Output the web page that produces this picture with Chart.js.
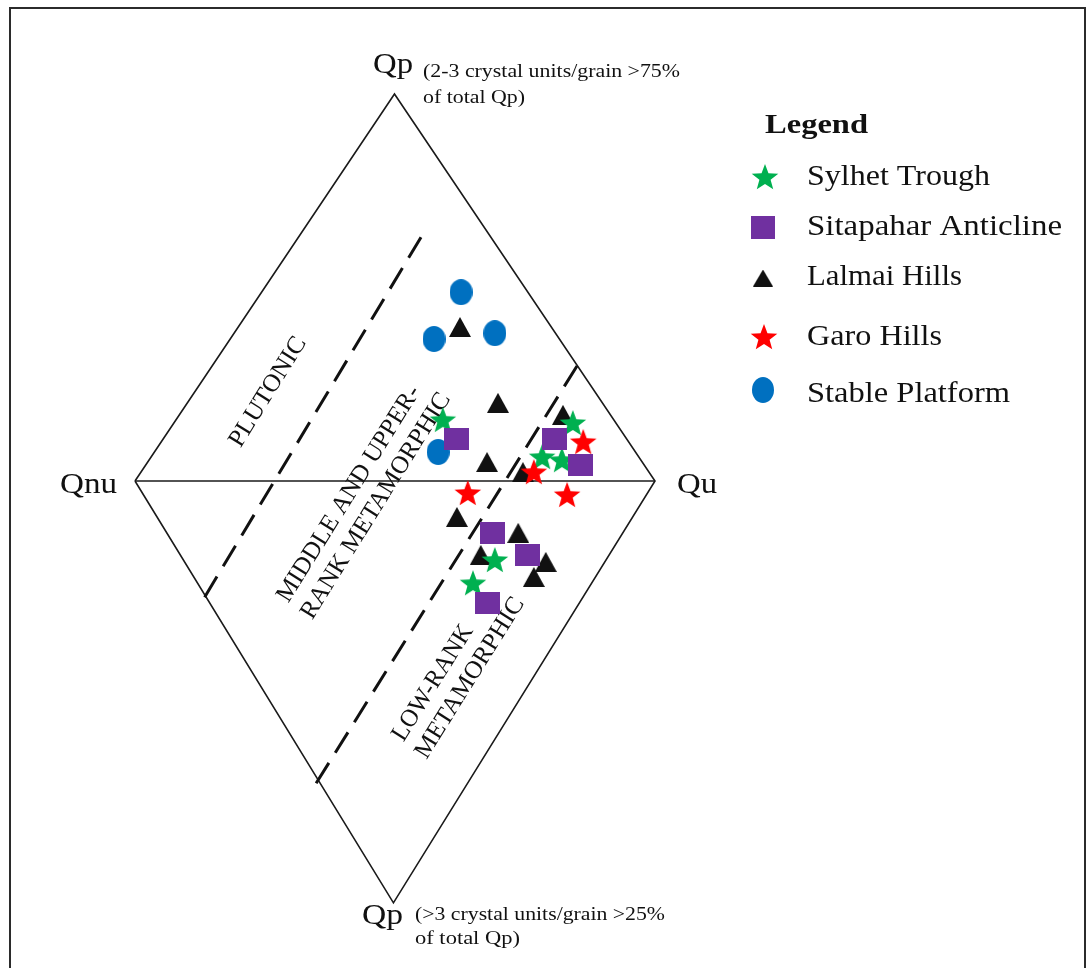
<!DOCTYPE html>
<html>
<head>
<meta charset="utf-8">
<title>Qp-Qnu-Qu provenance diamond</title>
<script src="https://cdn.jsdelivr.net/npm/chart.js@4/dist/chart.umd.min.js"></script>
<style>
  html, body { margin: 0; padding: 0; background: #fff; }
  canvas { display: block; }
</style>
</head>
<body>
<canvas id="diamond" width="1089" height="968"></canvas>
<script>
// Diagram coordinates: x runs from Qnu (0) to Qu (100) along the horizontal axis,
// y is 0 on that axis, 100 at the upper Qp apex and negative towards the lower Qp apex.
const diamondOutline   = [{x: 0, y: 0}, {x: 49.9, y: 100}, {x: 100, y: 0}, {x: 49.7, y: -109}, {x: 0, y: 0}];
const centralAxis      = [{x: 0, y: 0}, {x: 100, y: 0}];
const plutonicBoundary = [{x: 55.0, y: 63.0}, {x: 12.5, y: -32.0}];
const lowRankBoundary  = [{x: 85.0, y: 29.7}, {x: 34.6, y: -78.6}];

// Sample points by basin
const sylhetTrough = [
  {x: 59.2, y: 15.8}, {x: 84.2, y: 15.0}, {x: 78.3, y: 6.2},
  {x: 82.1, y: 5.4}, {x: 69.2, y: -20.4}, {x: 65.0, y: -26.4}
];
const sitapaharAnticline = [
  {x: 61.9, y: 10.9}, {x: 80.6, y: 10.9}, {x: 85.6, y: 4.1},
  {x: 68.7, y: -13.4}, {x: 75.4, y: -19.1}, {x: 67.7, y: -31.5}
];
const lalmaiHills = [
  {x: 62.5, y: 39.8}, {x: 69.8, y: 20.2}, {x: 67.7, y: 4.9}, {x: 82.3, y: 17.1},
  {x: 74.6, y: 2.3}, {x: 61.9, y: -9.3}, {x: 73.7, y: -13.4}, {x: 66.5, y: -19.1},
  {x: 79.0, y: -20.9}, {x: 76.7, y: -24.8}
];
const garoHills = [
  {x: 86.2, y: 10.1}, {x: 76.7, y: 2.3}, {x: 64.0, y: -3.1}, {x: 83.1, y: -3.6}
];
const stablePlatform = [
  {x: 62.7, y: 48.8}, {x: 57.5, y: 36.7}, {x: 69.2, y: 38.2}, {x: 58.3, y: 7.5}
];

const seriesNames = ['Sylhet Trough', 'Sitapahar Anticline', 'Lalmai Hills', 'Garo Hills', 'Stable Platform'];

// ---- marker glyphs -------------------------------------------------------
function makeCanvas(w, h) {
  const c = document.createElement('canvas');
  c.width = w; c.height = h;
  return c;
}
function starGlyph(color, R) {
  const s = Math.ceil(2 * R + 2);
  const c = makeCanvas(s, s);
  const g = c.getContext('2d');
  g.fillStyle = color;
  g.beginPath();
  for (let i = 0; i < 10; i++) {
    const a = -Math.PI / 2 + i * Math.PI / 5;
    const r = i % 2 ? R * 0.42 : R;
    const px = s / 2 + r * Math.cos(a), py = s / 2 + 1 + r * Math.sin(a);
    i ? g.lineTo(px, py) : g.moveTo(px, py);
  }
  g.closePath();
  g.fill();
  return c;
}
function squareGlyph(color, w, h) {
  const c = makeCanvas(w, h);
  const g = c.getContext('2d');
  g.fillStyle = color;
  g.fillRect(0, 0, w, h);
  return c;
}
function triangleGlyph(color, w, h) {
  const c = makeCanvas(w, h);
  const g = c.getContext('2d');
  g.fillStyle = color;
  g.beginPath();
  g.moveTo(w / 2, 0); g.lineTo(w, h); g.lineTo(0, h);
  g.closePath();
  g.fill();
  return c;
}
function ellipseGlyph(color, w, h) {
  const c = makeCanvas(w, h);
  const g = c.getContext('2d');
  g.fillStyle = color;
  g.beginPath();
  g.ellipse(w / 2, h / 2, w / 2, h / 2, 0, 0, Math.PI * 2);
  g.fill();
  return c;
}

const GREEN = '#00B050', PURPLE = '#7030A0', BLACK = '#111111', RED = '#FF0000', BLUE = '#0070C0';
const glyphs = {
  sylhet:    starGlyph(GREEN, 14),
  sitapahar: squareGlyph(PURPLE, 25, 22),
  lalmai:    triangleGlyph(BLACK, 22, 20),
  garo:      starGlyph(RED, 14),
  stable:    ellipseGlyph(BLUE, 23, 26)
};
const legendGlyphs = [
  starGlyph(GREEN, 14),
  squareGlyph(PURPLE, 24, 23),
  triangleGlyph(BLACK, 20, 17),
  starGlyph(RED, 14),
  ellipseGlyph(BLUE, 22, 26)
];

// ---- text helpers ---------------------------------------------------------
const SERIF = '"Liberation Serif", "Times New Roman", serif';
function fitText(ctx, str, x, y, width, font, angleDeg) {
  ctx.save();
  ctx.font = font;
  const m = ctx.measureText(str).width;
  ctx.translate(x, y);
  if (angleDeg) ctx.rotate(angleDeg * Math.PI / 180);
  ctx.scale(width / m, 1);
  ctx.fillText(str, 0, 0);
  ctx.restore();
}

const diagramText = {
  id: 'diagramText',
  beforeDraw(chart) {
    const ctx = chart.ctx;
    ctx.save();
    ctx.fillStyle = '#ffffff';
    ctx.fillRect(0, 0, chart.width, chart.height);
    // page frame
    ctx.strokeStyle = '#2b2b2b';
    ctx.lineWidth = 2;
    ctx.beginPath();
    ctx.moveTo(10, chart.height);
    ctx.lineTo(10, 8);
    ctx.lineTo(1085, 8);
    ctx.lineTo(1085, chart.height);
    ctx.stroke();
    ctx.restore();
  },
  beforeDatasetsDraw(chart) {
    const ctx = chart.ctx;
    ctx.save();
    ctx.fillStyle = '#111';
    // field labels, rotated parallel to the boundaries
    ctx.textAlign = 'center';
    ctx.textBaseline = 'middle';
    const f = '25px ' + SERIF;
    fitText(ctx, 'PLUTONIC', 268, 392, 125, f, -58);
    fitText(ctx, 'MIDDLE AND UPPER-', 349, 494, 250, f, -58);
    fitText(ctx, 'RANK METAMORPHIC', 376, 506, 262, f, -58);
    fitText(ctx, 'LOW-RANK', 433, 683, 132, f, -58);
    fitText(ctx, 'METAMORPHIC', 470, 678, 185, f, -58);
    ctx.restore();
  },
  afterDraw(chart) {
    const ctx = chart.ctx;
    ctx.save();
    ctx.fillStyle = '#111';
    ctx.textAlign = 'left';
    ctx.textBaseline = 'alphabetic';
    const big = '30px ' + SERIF;
    const small = '18px ' + SERIF;
    // apex / pole labels
    fitText(ctx, 'Qp', 373, 73, 40, big);
    fitText(ctx, '(2-3 crystal units/grain >75%', 423, 77, 257, small);
    fitText(ctx, 'of total Qp)', 423, 103, 102, small);
    fitText(ctx, 'Qp', 362, 924, 41, big);
    fitText(ctx, '(>3 crystal units/grain >25%', 415, 920, 250, small);
    fitText(ctx, 'of total Qp)', 415, 944, 105, small);
    fitText(ctx, 'Qnu', 60, 493, 57, big);
    fitText(ctx, 'Qu', 677, 493, 40, big);

    // legend
    fitText(ctx, 'Legend', 765, 133, 103, 'bold 27px ' + SERIF);
    const rows = [
      {y: 185, mx: 765, my: 177, w: 183},
      {y: 235, mx: 763, my: 227, w: 255},
      {y: 285, mx: 763, my: 278, w: 155},
      {y: 345, mx: 764, my: 337, w: 135},
      {y: 402, mx: 763, my: 390, w: 203}
    ];
    rows.forEach((r, i) => {
      const g = legendGlyphs[i];
      ctx.drawImage(g, r.mx - g.width / 2, r.my - g.height / 2);
      fitText(ctx, seriesNames[i], 807, r.y, r.w, big);
    });
    ctx.restore();
  }
};

const lineDefaults = {
  type: 'line', showLine: true, fill: false, pointRadius: 0,
  pointHoverRadius: 0, tension: 0, borderCapStyle: 'butt'
};

new Chart(document.getElementById('diamond'), {
  type: 'scatter',
  data: {
    datasets: [
      {label: seriesNames[3], data: garoHills, pointStyle: glyphs.garo, pointRadius: 10, order: 1},
      {label: seriesNames[1], data: sitapaharAnticline, pointStyle: glyphs.sitapahar, pointRadius: 10, order: 2},
      {label: seriesNames[0], data: sylhetTrough, pointStyle: glyphs.sylhet, pointRadius: 10, order: 3},
      {label: seriesNames[2], data: lalmaiHills, pointStyle: glyphs.lalmai, pointRadius: 10, order: 4},
      {label: seriesNames[4], data: stablePlatform, pointStyle: glyphs.stable, pointRadius: 10, order: 5},
      Object.assign({label: 'outline', data: diamondOutline, borderColor: '#1a1a1a', borderWidth: 1.6, order: 10, borderJoinStyle: 'miter'}, lineDefaults),
      Object.assign({label: 'axis', data: centralAxis, borderColor: '#1a1a1a', borderWidth: 1.6, order: 10}, lineDefaults),
      Object.assign({label: 'plutonic boundary', data: plutonicBoundary, borderColor: '#111', borderWidth: 3, borderDash: [24, 12], order: 9}, lineDefaults),
      Object.assign({label: 'low-rank boundary', data: lowRankBoundary, borderColor: '#111', borderWidth: 3, borderDash: [24, 12], order: 9}, lineDefaults)
    ]
  },
  options: {
    responsive: false,
    maintainAspectRatio: false,
    animation: false,
    events: [],
    layout: {padding: 0, autoPadding: false},
    plugins: {
      legend: {display: false},
      tooltip: {enabled: false}
    },
    scales: {
      x: {type: 'linear', display: false, min: -135 / 5.2, max: (1089 - 135) / 5.2},
      y: {type: 'linear', display: false, min: -(968 - 481) / 3.87, max: 481 / 3.87}
    }
  },
  plugins: [diagramText]
});
</script>
</body>
</html>
